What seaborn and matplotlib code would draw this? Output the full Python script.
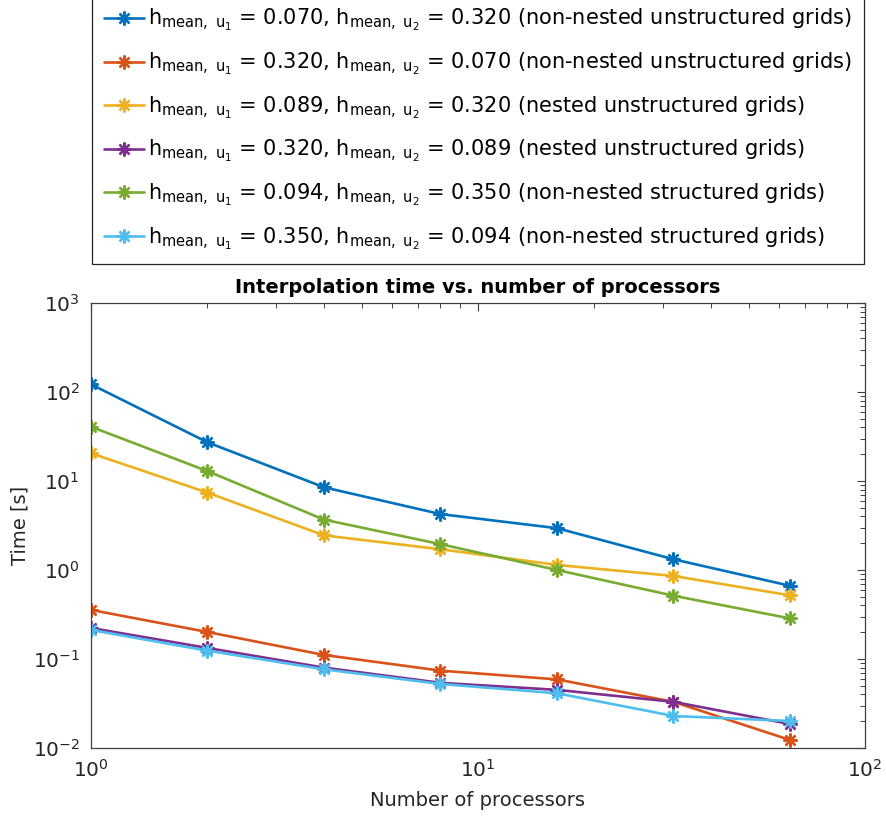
import matplotlib
matplotlib.use("Agg")
import matplotlib.pyplot as plt
import seaborn as sns
import numpy as np
from matplotlib.ticker import LogLocator

sns.set_theme(style="white")
plt.rcParams['font.family'] = ['DejaVu Sans']
plt.rcParams['mathtext.default'] = 'regular'

processors = [1, 2, 4, 8, 16, 32, 64]

t_nonnested_unstr_a = [122, 27.2, 8.5, 4.25, 2.95, 1.32, 0.665]
t_nonnested_unstr_b = [0.356, 0.201, 0.111, 0.074, 0.059, 0.033, 0.0123]
t_nested_unstr_a = [20.5, 7.4, 2.45, 1.71, 1.14, 0.857, 0.519]
t_nested_unstr_b = [0.223, 0.133, 0.080, 0.054, 0.045, 0.033, 0.0186]
t_nonnested_str_a = [40.7, 12.9, 3.68, 1.95, 1.0, 0.514, 0.286]
t_nonnested_str_b = [0.212, 0.124, 0.0766, 0.0524, 0.0412, 0.0229, 0.0201]

labels = [
    r"h$_{mean,\ u_1}$ = 0.070, h$_{mean,\ u_2}$ = 0.320 (non-nested unstructured grids)",
    r"h$_{mean,\ u_1}$ = 0.320, h$_{mean,\ u_2}$ = 0.070 (non-nested unstructured grids)",
    r"h$_{mean,\ u_1}$ = 0.089, h$_{mean,\ u_2}$ = 0.320 (nested unstructured grids)",
    r"h$_{mean,\ u_1}$ = 0.320, h$_{mean,\ u_2}$ = 0.089 (nested unstructured grids)",
    r"h$_{mean,\ u_1}$ = 0.094, h$_{mean,\ u_2}$ = 0.350 (non-nested structured grids)",
    r"h$_{mean,\ u_1}$ = 0.350, h$_{mean,\ u_2}$ = 0.094 (non-nested structured grids)",
]
series = [t_nonnested_unstr_a, t_nonnested_unstr_b, t_nested_unstr_a,
          t_nested_unstr_b, t_nonnested_str_a, t_nonnested_str_b]
colors = ["#0072BD", "#D95319", "#EDB120", "#7E2F8E", "#77AC30", "#4DBEEE"]

fig = plt.figure(figsize=(8.86, 8.17), dpi=100)
ax = fig.add_axes([91/886, 1-748/817, (865-91)/886, (748-303)/817])

for vals, lab, col in zip(series, labels, colors):
    sns.lineplot(x=processors, y=vals, ax=ax, color=col, label=lab,
                 marker=(8, 2, 0), markersize=10, markeredgewidth=1.7,
                 markeredgecolor=col, linewidth=1.9)

ax.set_xscale('log')
ax.set_yscale('log')
ax.set_xlim(1, 100)
ax.set_ylim(1e-2, 1e3)
ax.yaxis.set_major_locator(LogLocator(base=10, numticks=10))
ax.yaxis.set_minor_locator(LogLocator(base=10, subs=np.arange(2, 10), numticks=20))

axc = '#262626'
for s in ax.spines.values():
    s.set_visible(True)
    s.set_color('#404040')
    s.set_linewidth(0.9)
ax.tick_params(which='both', direction='in', top=True, right=True,
               colors='#404040', labelcolor=axc, labelsize=14.5)
ax.tick_params(which='major', length=6, width=0.8, pad=8)
ax.tick_params(which='minor', length=3.5, width=0.7)
ax.grid(False)

ax.set_title("Interpolation time vs. number of processors", fontsize=14,
             fontweight='bold', color='black', pad=7)
ax.set_xlabel("Number of processors", fontsize=14, color=axc, labelpad=7)
ax.set_ylabel("Time [s]", fontsize=14, color=axc, labelpad=2)

leg = ax.legend(loc='lower center', bbox_to_anchor=(478/886, 1-264/817),
                bbox_transform=fig.transFigure, fontsize=15.0, frameon=True,
                fancybox=False, edgecolor='#262626', framealpha=1,
                handlelength=1.9, handletextpad=0.2, labelspacing=0.84,
                borderpad=0.6, borderaxespad=0)
leg.get_frame().set_linewidth(0.9)
for t in leg.get_texts():
    t.set_color('black')

fig.savefig("out.png", dpi=100)
